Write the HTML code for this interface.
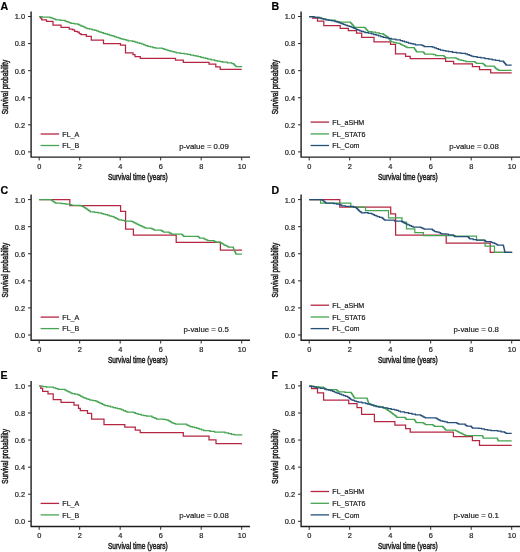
<!DOCTYPE html><html><head><meta charset="utf-8"><style>html,body{margin:0;padding:0;background:#fff;width:520px;height:552px;overflow:hidden}svg{display:block;will-change:transform}text{font-family:"Liberation Sans",sans-serif;fill:#1a1a1a;stroke:#222;stroke-width:0.2px}.ti{stroke-width:0.5px}</style></head><body>
<svg width="520" height="552" viewBox="0 0 520 552">
<g>
<text x="0.6" y="9.9" font-size="10.6" font-weight="bold" style="fill:#000;stroke:#000;stroke-width:0.2px">A</text>
<path d="M31.1,11.5 V157.1 H250" fill="none" stroke="#1e1e1e" stroke-width="1.4"/>
<text x="25" y="19.4" font-size="7.4" text-anchor="end">1.0</text>
<text x="25" y="46.48" font-size="7.4" text-anchor="end">0.8</text>
<text x="25" y="73.56" font-size="7.4" text-anchor="end">0.6</text>
<text x="25" y="100.64" font-size="7.4" text-anchor="end">0.4</text>
<text x="25" y="127.72" font-size="7.4" text-anchor="end">0.2</text>
<text x="25" y="154.8" font-size="7.4" text-anchor="end">0.0</text>
<text x="39.4" y="168.8" font-size="7.4" text-anchor="middle">0</text>
<text x="79.9" y="168.8" font-size="7.4" text-anchor="middle">2</text>
<text x="120.4" y="168.8" font-size="7.4" text-anchor="middle">4</text>
<text x="160.9" y="168.8" font-size="7.4" text-anchor="middle">6</text>
<text x="201.4" y="168.8" font-size="7.4" text-anchor="middle">8</text>
<text x="241.9" y="168.8" font-size="7.4" text-anchor="middle">10</text>
<path d="M28,16.5H31.1M28,43.58H31.1M28,70.66H31.1M28,97.74H31.1M28,124.82H31.1M28,151.9H31.1M39.2,157.1V160.4M79.7,157.1V160.4M120.2,157.1V160.4M160.7,157.1V160.4M201.2,157.1V160.4M241.7,157.1V160.4" stroke="#2a2a2a" stroke-width="1.0" fill="none"/>
<text x="107.9" y="179.8" font-size="9.4" textLength="59.8" lengthAdjust="spacingAndGlyphs" class="ti">Survival time (years)</text>
<text transform="translate(8.1,114.3) rotate(-90)" x="0" y="0" font-size="9.4" textLength="54.6" lengthAdjust="spacingAndGlyphs" class="ti">Survival probability</text>
<path d="M40.6,134H59.1" stroke="#b52642" stroke-width="1.3"/>
<text x="62.3" y="136.6" font-size="7.1">FL_A</text>
<path d="M40.6,145.5H59.1" stroke="#46a552" stroke-width="1.3"/>
<text x="62.3" y="148.1" font-size="7.1">FL_B</text>
<text x="228.8" y="148.7" font-size="7.8" text-anchor="end">p-value = 0.09</text>
<path d="M39.2,16.5 H40.5 V18 H41.8 V19.8 H46.5 V21.3 H53 V25 H61 V27.3 H69.2 V29 H72.8 V29.8 H74.6 V31.3 H77.5 V32.2 H79.3 V33.7 H81 V34.6 H86.3 V36.3 H91.3 V40.2 H103.5 V43.7 H120.5 V45 H125.5 V52.8 H133 V54.6 H135 V56.5 H140.3 V58.3 H175.5 V60.2 H183.3 V62.3 H209 V64.2 H215.8 V66.8 H220.2 V69.4 H241.7" fill="none" stroke="#b52642" stroke-width="1.25" stroke-linejoin="miter"/>
<path d="M39.2,16.5 H41.9 V17.2 H50 V17.5 H51.45 V18.07 H52.9 V18.65 H54.35 V19.23 H55.8 V19.8 H60.4 V20.4 H65 V21 H66.45 V21.57 H67.9 V22.15 H69.35 V22.73 H70.8 V23.3 H74.25 V23.85 H77.7 V24.4 H79.23 V25.08 H80.77 V25.77 H82.3 V26.45 H83.83 V27.13 H85.37 V27.82 H86.9 V28.5 H89.6 V29.13 H92.3 V29.77 H95 V30.4 H96.62 V30.98 H98.25 V31.55 H99.88 V32.12 H101.5 V32.7 H103.43 V33.27 H105.37 V33.83 H107.3 V34.4 H109.2 V35 H111.1 V35.6 H113 V36.2 H114.75 V36.78 H116.5 V37.35 H118.25 V37.92 H120 V38.5 H122 V39.08 H124 V39.65 H126 V40.22 H128 V40.8 H132.7 V41.3 H135 V42.02 H137.3 V42.75 H139.6 V43.48 H141.9 V44.2 H143.83 V44.9 H145.77 V45.6 H147.7 V46.3 H150.27 V46.9 H152.83 V47.5 H155.4 V48.1 H162.3 V48.7 H164.2 V49.3 H166.1 V49.9 H168 V50.5 H170.05 V51.08 H172.1 V51.65 H174.15 V52.22 H176.2 V52.8 H180.2 V53.35 H184.2 V53.9 H187.3 V54.47 H190.4 V55.03 H193.5 V55.6 H195.93 V56.17 H198.37 V56.73 H200.8 V57.3 H203.1 V57.87 H205.4 V58.43 H207.7 V59 H211.15 V59.75 H214.6 V60.5 H217.3 V61.07 H220 V61.63 H222.7 V62.2 H227.3 V62.95 H231.9 V63.7 H233.7 V64.2 H234.27 V64.78 H234.85 V65.35 H235.43 V65.92 H236 V66.5 H241.7 V66.8" fill="none" stroke="#46a552" stroke-width="1.25" stroke-linejoin="miter"/>
</g>
<g>
<text x="271.6" y="9.9" font-size="10.6" font-weight="bold" style="fill:#000;stroke:#000;stroke-width:0.2px">B</text>
<path d="M301.1,11.5 V157.1 H520" fill="none" stroke="#1e1e1e" stroke-width="1.4"/>
<text x="295" y="19.4" font-size="7.4" text-anchor="end">1.0</text>
<text x="295" y="46.48" font-size="7.4" text-anchor="end">0.8</text>
<text x="295" y="73.56" font-size="7.4" text-anchor="end">0.6</text>
<text x="295" y="100.64" font-size="7.4" text-anchor="end">0.4</text>
<text x="295" y="127.72" font-size="7.4" text-anchor="end">0.2</text>
<text x="295" y="154.8" font-size="7.4" text-anchor="end">0.0</text>
<text x="309.4" y="168.8" font-size="7.4" text-anchor="middle">0</text>
<text x="349.9" y="168.8" font-size="7.4" text-anchor="middle">2</text>
<text x="390.4" y="168.8" font-size="7.4" text-anchor="middle">4</text>
<text x="430.9" y="168.8" font-size="7.4" text-anchor="middle">6</text>
<text x="471.4" y="168.8" font-size="7.4" text-anchor="middle">8</text>
<text x="511.9" y="168.8" font-size="7.4" text-anchor="middle">10</text>
<path d="M298,16.5H301.1M298,43.58H301.1M298,70.66H301.1M298,97.74H301.1M298,124.82H301.1M298,151.9H301.1M309.2,157.1V160.4M349.7,157.1V160.4M390.2,157.1V160.4M430.7,157.1V160.4M471.2,157.1V160.4M511.7,157.1V160.4" stroke="#2a2a2a" stroke-width="1.0" fill="none"/>
<text x="377.9" y="179.8" font-size="9.4" textLength="59.8" lengthAdjust="spacingAndGlyphs" class="ti">Survival time (years)</text>
<text transform="translate(278.1,114.3) rotate(-90)" x="0" y="0" font-size="9.4" textLength="54.6" lengthAdjust="spacingAndGlyphs" class="ti">Survival probability</text>
<path d="M310.6,122.1H329.1" stroke="#b52642" stroke-width="1.3"/>
<text x="332.3" y="124.7" font-size="7.1">FL_aSHM</text>
<path d="M310.6,133.9H329.1" stroke="#46a552" stroke-width="1.3"/>
<text x="332.3" y="136.5" font-size="7.1">FL_STAT6</text>
<path d="M310.6,145.5H329.1" stroke="#264f7a" stroke-width="1.3"/>
<text x="332.3" y="148.1" font-size="7.1">FL_Com</text>
<text x="498.8" y="148.7" font-size="7.8" text-anchor="end">p-value = 0.08</text>
<path d="M309.2,16.7 H312.5 V18.2 H317.5 V21 H323.8 V25.7 H340.2 V28.3 H348.3 V30.6 H356.5 V33.2 H361.7 V37.4 H374 V41.9 H390.5 V44.3 H395.5 V53.8 H405.6 V56.4 H410.2 V58.7 H445.6 V61.3 H453.6 V63.8 H472.4 V66.5 H479.5 V69.6 H490.7 V72.9 H511.7" fill="none" stroke="#b52642" stroke-width="1.25" stroke-linejoin="miter"/>
<path d="M309.2,16.7 H314.6 V17.25 H320 V17.8 H321.75 V18.5 H323.5 V19.2 H325.8 V19.7 H328.1 V20.2 H335 V21 H337.3 V21.55 H339.6 V22.1 H350 V22.1 H350.57 V22.75 H351.15 V23.4 H351.73 V24.05 H352.3 V24.7 H352.88 V25.35 H353.45 V26 H354.03 V26.65 H354.6 V27.3 H364.6 V27.5 H365.18 V28.17 H365.77 V28.83 H366.35 V29.5 H366.93 V30.17 H367.52 V30.83 H368.1 V31.5 H371.85 V32.23 H375.6 V32.95 H379.35 V33.67 H383.1 V34.4 H384.25 V35.12 H385.4 V35.85 H386.55 V36.57 H387.7 V37.3 H388.2 V37.96 H388.7 V38.61 H389.2 V39.27 H389.7 V39.93 H390.2 V40.59 H390.7 V41.24 H391.2 V41.9 H393.87 V42.5 H396.53 V43.1 H399.2 V43.7 H400.55 V44.37 H401.9 V45.03 H403.25 V45.7 H404.6 V46.37 H405.95 V47.03 H407.3 V47.7 H414.2 V48.3 H414.66 V49 H415.12 V49.7 H415.58 V50.4 H416.04 V51.1 H416.5 V51.8 H423.1 V52.1 H423.67 V52.73 H424.23 V53.37 H424.8 V54 H433.5 V54.6 H435.8 V55.5 H443.8 V56 H444.4 V56.6 H445 V57.2 H445.6 V57.8 H455.4 V58.1 H456.53 V58.67 H457.67 V59.23 H458.8 V59.8 H461.13 V60.37 H463.47 V60.93 H465.8 V61.5 H474.3 V61.7 H475.03 V62.27 H475.77 V62.83 H476.5 V63.4 H483.2 V64 H483.93 V64.73 H484.67 V65.47 H485.4 V66.2 H494.3 V66.8 H494.9 V67.6 H495.5 V68.4 H496.6 V69.03 H497.7 V69.67 H498.8 V70.3 H511.7 V70.3" fill="none" stroke="#46a552" stroke-width="1.25" stroke-linejoin="miter"/>
<path d="M309.2,16.7 H314 V17.4 H318.8 V18.1 H321.13 V18.67 H323.47 V19.23 H325.8 V19.8 H328.87 V20.37 H331.93 V20.93 H335 V21.5 H337.02 V22.23 H339.05 V22.95 H341.08 V23.67 H343.1 V24.4 H345.12 V25.07 H347.15 V25.75 H349.18 V26.43 H351.2 V27.1 H352.58 V27.72 H353.96 V28.34 H355.34 V28.96 H356.72 V29.58 H358.1 V30.2 H359.83 V30.77 H361.55 V31.35 H363.27 V31.93 H365 V32.5 H368.25 V33.15 H371.5 V33.8 H373.82 V34.5 H376.14 V35.2 H378.46 V35.9 H380.78 V36.6 H383.1 V37.3 H385.8 V37.87 H388.5 V38.43 H391.2 V39 H395.8 V39.75 H400.4 V40.5 H402.42 V41.15 H404.45 V41.8 H406.48 V42.45 H408.5 V43.1 H410.8 V43.67 H413.1 V44.23 H415.4 V44.8 H420.8 V44.8 H421.93 V45.37 H423.07 V45.93 H424.2 V46.5 H432.3 V47.1 H434.32 V47.83 H436.35 V48.55 H438.38 V49.27 H440.4 V50 H443.1 V50.57 H445.8 V51.13 H448.5 V51.7 H452.5 V52.3 H456.5 V52.9 H460.9 V53.4 H465.3 V53.9 H467.27 V54.6 H469.25 V55.3 H471.23 V56 H473.2 V56.7 H477.1 V57.25 H481 V57.8 H484.9 V58.5 H488.8 V59.2 H492.15 V59.75 H495.5 V60.3 H499.4 V61 H503.3 V61.7 H503.86 V62.38 H504.42 V63.06 H504.98 V63.74 H505.54 V64.42 H506.1 V65.1 H511.7 V65.1" fill="none" stroke="#264f7a" stroke-width="1.25" stroke-linejoin="miter"/>
</g>
<g>
<text x="0.6" y="194.4" font-size="10.6" font-weight="bold" style="fill:#000;stroke:#000;stroke-width:0.2px">C</text>
<path d="M31.1,194.6 V340.2 H250" fill="none" stroke="#1e1e1e" stroke-width="1.4"/>
<text x="25" y="202.5" font-size="7.4" text-anchor="end">1.0</text>
<text x="25" y="229.58" font-size="7.4" text-anchor="end">0.8</text>
<text x="25" y="256.66" font-size="7.4" text-anchor="end">0.6</text>
<text x="25" y="283.74" font-size="7.4" text-anchor="end">0.4</text>
<text x="25" y="310.82" font-size="7.4" text-anchor="end">0.2</text>
<text x="25" y="337.9" font-size="7.4" text-anchor="end">0.0</text>
<text x="39.4" y="351.9" font-size="7.4" text-anchor="middle">0</text>
<text x="79.9" y="351.9" font-size="7.4" text-anchor="middle">2</text>
<text x="120.4" y="351.9" font-size="7.4" text-anchor="middle">4</text>
<text x="160.9" y="351.9" font-size="7.4" text-anchor="middle">6</text>
<text x="201.4" y="351.9" font-size="7.4" text-anchor="middle">8</text>
<text x="241.9" y="351.9" font-size="7.4" text-anchor="middle">10</text>
<path d="M28,199.6H31.1M28,226.68H31.1M28,253.76H31.1M28,280.84H31.1M28,307.92H31.1M28,335H31.1M39.2,340.2V343.5M79.7,340.2V343.5M120.2,340.2V343.5M160.7,340.2V343.5M201.2,340.2V343.5M241.7,340.2V343.5" stroke="#2a2a2a" stroke-width="1.0" fill="none"/>
<text x="107.9" y="362.9" font-size="9.4" textLength="59.8" lengthAdjust="spacingAndGlyphs" class="ti">Survival time (years)</text>
<text transform="translate(8.1,297.4) rotate(-90)" x="0" y="0" font-size="9.4" textLength="54.6" lengthAdjust="spacingAndGlyphs" class="ti">Survival probability</text>
<path d="M40.6,317.1H59.1" stroke="#b52642" stroke-width="1.3"/>
<text x="62.3" y="319.7" font-size="7.1">FL_A</text>
<path d="M40.6,328.6H59.1" stroke="#46a552" stroke-width="1.3"/>
<text x="62.3" y="331.2" font-size="7.1">FL_B</text>
<text x="228.8" y="331.8" font-size="7.8" text-anchor="end">p-value = 0.5</text>
<path d="M39.2,199.6 H69.8 V205.5 H120.6 V211.4 H125.6 V229 H133.4 V235.1 H176.2 V242.3 H220.4 V250 H242" fill="none" stroke="#b52642" stroke-width="1.25" stroke-linejoin="miter"/>
<path d="M39.2,199.6 H50.6 V199.7 H51.45 V200.45 H52.3 V201.2 H53.47 V201.87 H54.63 V202.53 H55.8 V203.2 H61.5 V203.5 H65.55 V204.1 H69.6 V204.7 H71.9 V205.3 H80 V205.6 H81.75 V206.3 H83.5 V207 H84.35 V207.57 H85.2 V208.15 H86.05 V208.73 H86.9 V209.3 H87.78 V209.93 H88.65 V210.55 H89.53 V211.18 H90.4 V211.8 H94.6 V212.3 H98.05 V212.9 H101.5 V213.5 H103.43 V214.07 H105.37 V214.63 H107.3 V215.2 H109.23 V215.77 H111.17 V216.33 H113.1 V216.9 H114.52 V217.62 H115.95 V218.35 H117.38 V219.08 H118.8 V219.8 H121.7 V220.4 H124.6 V221 H131.5 V221.3 H132.68 V221.93 H133.85 V222.55 H135.02 V223.18 H136.2 V223.8 H137.51 V224.43 H138.83 V225.06 H140.14 V225.69 H141.46 V226.31 H142.77 V226.94 H144.09 V227.57 H145.4 V228.2 H150.8 V228.3 H151.93 V228.87 H153.07 V229.43 H154.2 V230 H161.2 V230.6 H162.35 V231.35 H163.5 V232.1 H169.2 V232.9 H170.35 V233.45 H171.5 V234 H181.9 V234.6 H182.5 V235.17 H183.1 V235.73 H183.7 V236.3 H198.1 V236.7 H198.85 V237.45 H199.6 V238.2 H204.2 V239 H205.95 V239.75 H207.7 V240.5 H213.5 V240.8 H214.65 V241.5 H215.8 V242.2 H220.4 V242.5 H221.25 V243.07 H222.1 V243.65 H222.95 V244.23 H223.8 V244.8 H224.98 V245.38 H226.15 V245.95 H227.32 V246.53 H228.5 V247.1 H233.1 V247.3 H233.32 V247.96 H233.54 V248.62 H233.76 V249.28 H233.98 V249.94 H234.2 V250.6 H234.56 V251.28 H234.92 V251.96 H235.28 V252.64 H235.64 V253.32 H236 V254 H241.7 V254.3" fill="none" stroke="#46a552" stroke-width="1.25" stroke-linejoin="miter"/>
</g>
<g>
<text x="271.6" y="194.4" font-size="10.6" font-weight="bold" style="fill:#000;stroke:#000;stroke-width:0.2px">D</text>
<path d="M301.1,194.6 V340.2 H520" fill="none" stroke="#1e1e1e" stroke-width="1.4"/>
<text x="295" y="202.5" font-size="7.4" text-anchor="end">1.0</text>
<text x="295" y="229.58" font-size="7.4" text-anchor="end">0.8</text>
<text x="295" y="256.66" font-size="7.4" text-anchor="end">0.6</text>
<text x="295" y="283.74" font-size="7.4" text-anchor="end">0.4</text>
<text x="295" y="310.82" font-size="7.4" text-anchor="end">0.2</text>
<text x="295" y="337.9" font-size="7.4" text-anchor="end">0.0</text>
<text x="309.4" y="351.9" font-size="7.4" text-anchor="middle">0</text>
<text x="349.9" y="351.9" font-size="7.4" text-anchor="middle">2</text>
<text x="390.4" y="351.9" font-size="7.4" text-anchor="middle">4</text>
<text x="430.9" y="351.9" font-size="7.4" text-anchor="middle">6</text>
<text x="471.4" y="351.9" font-size="7.4" text-anchor="middle">8</text>
<text x="511.9" y="351.9" font-size="7.4" text-anchor="middle">10</text>
<path d="M298,199.6H301.1M298,226.68H301.1M298,253.76H301.1M298,280.84H301.1M298,307.92H301.1M298,335H301.1M309.2,340.2V343.5M349.7,340.2V343.5M390.2,340.2V343.5M430.7,340.2V343.5M471.2,340.2V343.5M511.7,340.2V343.5" stroke="#2a2a2a" stroke-width="1.0" fill="none"/>
<text x="377.9" y="362.9" font-size="9.4" textLength="59.8" lengthAdjust="spacingAndGlyphs" class="ti">Survival time (years)</text>
<text transform="translate(278.1,297.4) rotate(-90)" x="0" y="0" font-size="9.4" textLength="54.6" lengthAdjust="spacingAndGlyphs" class="ti">Survival probability</text>
<path d="M310.6,305.2H329.1" stroke="#b52642" stroke-width="1.3"/>
<text x="332.3" y="307.8" font-size="7.1">FL_aSHM</text>
<path d="M310.6,317H329.1" stroke="#46a552" stroke-width="1.3"/>
<text x="332.3" y="319.6" font-size="7.1">FL_STAT6</text>
<path d="M310.6,328.6H329.1" stroke="#264f7a" stroke-width="1.3"/>
<text x="332.3" y="331.2" font-size="7.1">FL_Com</text>
<text x="498.8" y="331.8" font-size="7.8" text-anchor="end">p-value = 0.8</text>
<path d="M309.2,199.6 H339.8 V207 H390.7 V213.8 H395.6 V235.1 H446.2 V243 H490.2 V252.4 H511.7" fill="none" stroke="#b52642" stroke-width="1.25" stroke-linejoin="miter"/>
<path d="M309.2,199.6 H320.6 V203.2 H350.8 V207 H365.5 V210.6 H388.5 V217.9 H402 V222 H406.5 V228.8 H414.8 V232.5 H423.4 V235.6 H455 V236.2 H476.5 V240.1 H485.1 V246.2 H494.5 V252.4 H511.7" fill="none" stroke="#46a552" stroke-width="1.25" stroke-linejoin="miter"/>
<path d="M309.2,199.6 H320 V199.7 H322.3 V200.3 H323.18 V200.98 H324.05 V201.65 H324.93 V202.32 H325.8 V203 H333.8 V203.5 H336.7 V204 H339.6 V204.5 H340.75 V205.15 H341.9 V205.8 H345.4 V206.4 H353.5 V207 H355.8 V207.6 H356.48 V208.28 H357.16 V208.96 H357.84 V209.64 H358.52 V210.32 H359.2 V211 H359.97 V211.6 H360.73 V212.2 H361.5 V212.8 H364.6 V212.7 H368.05 V213.25 H371.5 V213.8 H372.95 V214.53 H374.4 V215.25 H375.85 V215.97 H377.3 V216.7 H379.6 V217.3 H381.9 V217.9 H382.62 V218.47 H383.35 V219.05 H384.07 V219.62 H384.8 V220.2 H394.6 V221 H401.5 V221.3 H402.68 V222.03 H403.85 V222.75 H405.02 V223.47 H406.2 V224.2 H407.93 V224.92 H409.65 V225.65 H411.38 V226.38 H413.1 V227.1 H420.8 V227.5 H421.93 V228.07 H423.07 V228.63 H424.2 V229.2 H432.3 V229.8 H433.07 V230.37 H433.83 V230.93 H434.6 V231.5 H436.9 V232.1 H439.2 V232.7 H440.35 V233.25 H441.5 V233.8 H446.2 V234.1 H448.5 V234.8 H453.1 V235 H453.67 V235.57 H454.23 V236.13 H454.8 V236.7 H467.6 V236.5 H468.15 V237.1 H468.7 V237.7 H469.25 V238.3 H469.8 V238.9 H473.15 V239.5 H476.5 V240.1 H484.3 V240.6 H485.15 V241.15 H486 V241.7 H491 V242.3 H492.65 V242.85 H494.3 V243.4 H495.43 V243.97 H496.57 V244.53 H497.7 V245.1 H503.3 V245.3 H503.45 V245.94 H503.59 V246.57 H503.74 V247.21 H503.88 V247.85 H504.03 V248.48 H504.17 V249.12 H504.32 V249.75 H504.46 V250.39 H504.61 V251.03 H504.75 V251.66 H504.9 V252.3 H511.7 V253" fill="none" stroke="#264f7a" stroke-width="1.25" stroke-linejoin="miter"/>
</g>
<g>
<text x="0.6" y="379.3" font-size="10.6" font-weight="bold" style="fill:#000;stroke:#000;stroke-width:0.2px">E</text>
<path d="M31.1,380.9 V526.5 H250" fill="none" stroke="#1e1e1e" stroke-width="1.4"/>
<text x="25" y="388.8" font-size="7.4" text-anchor="end">1.0</text>
<text x="25" y="415.88" font-size="7.4" text-anchor="end">0.8</text>
<text x="25" y="442.96" font-size="7.4" text-anchor="end">0.6</text>
<text x="25" y="470.04" font-size="7.4" text-anchor="end">0.4</text>
<text x="25" y="497.12" font-size="7.4" text-anchor="end">0.2</text>
<text x="25" y="524.2" font-size="7.4" text-anchor="end">0.0</text>
<text x="39.4" y="538.2" font-size="7.4" text-anchor="middle">0</text>
<text x="79.9" y="538.2" font-size="7.4" text-anchor="middle">2</text>
<text x="120.4" y="538.2" font-size="7.4" text-anchor="middle">4</text>
<text x="160.9" y="538.2" font-size="7.4" text-anchor="middle">6</text>
<text x="201.4" y="538.2" font-size="7.4" text-anchor="middle">8</text>
<text x="241.9" y="538.2" font-size="7.4" text-anchor="middle">10</text>
<path d="M28,385.9H31.1M28,412.98H31.1M28,440.06H31.1M28,467.14H31.1M28,494.22H31.1M28,521.3H31.1M39.2,526.5V529.8M79.7,526.5V529.8M120.2,526.5V529.8M160.7,526.5V529.8M201.2,526.5V529.8M241.7,526.5V529.8" stroke="#2a2a2a" stroke-width="1.0" fill="none"/>
<text x="107.9" y="549.2" font-size="9.4" textLength="59.8" lengthAdjust="spacingAndGlyphs" class="ti">Survival time (years)</text>
<text transform="translate(8.1,483.7) rotate(-90)" x="0" y="0" font-size="9.4" textLength="54.6" lengthAdjust="spacingAndGlyphs" class="ti">Survival probability</text>
<path d="M40.6,503.4H59.1" stroke="#b52642" stroke-width="1.3"/>
<text x="62.3" y="506" font-size="7.1">FL_A</text>
<path d="M40.6,514.9H59.1" stroke="#46a552" stroke-width="1.3"/>
<text x="62.3" y="517.5" font-size="7.1">FL_B</text>
<text x="228.8" y="518.1" font-size="7.8" text-anchor="end">p-value = 0.08</text>
<path d="M39.2,386 H40.8 V388.4 H42.6 V391.4 H48 V393.9 H53.2 V399.5 H61 V402.3 H74 V405.2 H78.5 V408.3 H80.3 V410.5 H87.5 V413.3 H91.6 V419 H104 V424.5 H124.8 V427.1 H135.3 V430.1 H140.2 V432.7 H183.3 V436 H209 V439.8 H216 V443.7 H242" fill="none" stroke="#b52642" stroke-width="1.25" stroke-linejoin="miter"/>
<path d="M39.2,386 H42.85 V386.5 H46.5 V387 H53.5 V387.8 H55.8 V388.55 H58.1 V389.3 H65 V390.1 H66.38 V390.8 H67.76 V391.5 H69.14 V392.2 H70.52 V392.9 H71.9 V393.6 H74.8 V394.15 H77.7 V394.7 H79.08 V395.4 H80.46 V396.1 H81.84 V396.8 H83.22 V397.5 H84.6 V398.2 H86.4 V398.8 H88.2 V399.4 H90 V400 H92.9 V400.6 H95.8 V401.2 H97.11 V401.81 H98.43 V402.43 H99.74 V403.04 H101.06 V403.66 H102.37 V404.27 H103.69 V404.89 H105 V405.5 H107.7 V406.17 H110.4 V406.83 H113.1 V407.5 H115.4 V408.07 H117.7 V408.63 H120 V409.2 H121.72 V409.93 H123.45 V410.65 H125.18 V411.38 H126.9 V412.1 H133.8 V412.7 H135.37 V413.27 H136.93 V413.83 H138.5 V414.4 H141.17 V415 H143.83 V415.6 H146.5 V416.2 H151.9 V417.1 H153.43 V417.73 H154.97 V418.37 H156.5 V419 H163.5 V419.4 H165.8 V419.95 H168.1 V420.5 H169.23 V421.17 H170.37 V421.83 H171.5 V422.5 H172.87 V423.07 H174.23 V423.63 H175.6 V424.2 H185.4 V424.2 H186.55 V424.77 H187.7 V425.35 H188.85 V425.93 H190 V426.5 H192.3 V427.1 H194.6 V427.7 H196.9 V428.3 H199.2 V429.03 H201.5 V429.77 H203.8 V430.5 H210 V431.3 H214.6 V432.2 H221.5 V432.2 H225 V432.95 H228.5 V433.7 H231.35 V434.25 H234.2 V434.8 H241.7 V435.4" fill="none" stroke="#46a552" stroke-width="1.25" stroke-linejoin="miter"/>
</g>
<g>
<text x="271.6" y="379.3" font-size="10.6" font-weight="bold" style="fill:#000;stroke:#000;stroke-width:0.2px">F</text>
<path d="M301.1,380.9 V526.5 H520" fill="none" stroke="#1e1e1e" stroke-width="1.4"/>
<text x="295" y="388.8" font-size="7.4" text-anchor="end">1.0</text>
<text x="295" y="415.88" font-size="7.4" text-anchor="end">0.8</text>
<text x="295" y="442.96" font-size="7.4" text-anchor="end">0.6</text>
<text x="295" y="470.04" font-size="7.4" text-anchor="end">0.4</text>
<text x="295" y="497.12" font-size="7.4" text-anchor="end">0.2</text>
<text x="295" y="524.2" font-size="7.4" text-anchor="end">0.0</text>
<text x="309.4" y="538.2" font-size="7.4" text-anchor="middle">0</text>
<text x="349.9" y="538.2" font-size="7.4" text-anchor="middle">2</text>
<text x="390.4" y="538.2" font-size="7.4" text-anchor="middle">4</text>
<text x="430.9" y="538.2" font-size="7.4" text-anchor="middle">6</text>
<text x="471.4" y="538.2" font-size="7.4" text-anchor="middle">8</text>
<text x="511.9" y="538.2" font-size="7.4" text-anchor="middle">10</text>
<path d="M298,385.9H301.1M298,412.98H301.1M298,440.06H301.1M298,467.14H301.1M298,494.22H301.1M298,521.3H301.1M309.2,526.5V529.8M349.7,526.5V529.8M390.2,526.5V529.8M430.7,526.5V529.8M471.2,526.5V529.8M511.7,526.5V529.8" stroke="#2a2a2a" stroke-width="1.0" fill="none"/>
<text x="377.9" y="549.2" font-size="9.4" textLength="59.8" lengthAdjust="spacingAndGlyphs" class="ti">Survival time (years)</text>
<text transform="translate(278.1,483.7) rotate(-90)" x="0" y="0" font-size="9.4" textLength="54.6" lengthAdjust="spacingAndGlyphs" class="ti">Survival probability</text>
<path d="M310.6,491.5H329.1" stroke="#b52642" stroke-width="1.3"/>
<text x="332.3" y="494.1" font-size="7.1">FL_aSHM</text>
<path d="M310.6,503.3H329.1" stroke="#46a552" stroke-width="1.3"/>
<text x="332.3" y="505.9" font-size="7.1">FL_STAT6</text>
<path d="M310.6,514.9H329.1" stroke="#264f7a" stroke-width="1.3"/>
<text x="332.3" y="517.5" font-size="7.1">FL_Com</text>
<text x="498.8" y="518.1" font-size="7.8" text-anchor="end">p-value = 0.1</text>
<path d="M309.2,386 H311.5 V388.6 H317.5 V392.9 H323.6 V400 H348.7 V403.5 H357 V407.6 H361.6 V414.4 H374.4 V421.7 H394.9 V425.2 H405.6 V428.7 H410.2 V432.2 H453.4 V436.5 H472.4 V440.5 H479.5 V445.4 H511.7" fill="none" stroke="#b52642" stroke-width="1.25" stroke-linejoin="miter"/>
<path d="M309.2,386 H313.97 V386.6 H318.73 V387.2 H323.5 V387.8 H324.27 V388.37 H325.03 V388.93 H325.8 V389.5 H336.2 V389.5 H336.77 V390.07 H337.35 V390.65 H337.93 V391.23 H338.5 V391.8 H344.85 V392.4 H351.2 V393 H351.62 V393.65 H352.05 V394.3 H352.48 V394.95 H352.9 V395.6 H353.32 V396.25 H353.75 V396.9 H354.18 V397.55 H354.6 V398.2 H366.9 V398.3 H367.12 V398.95 H367.35 V399.6 H367.57 V400.25 H367.8 V400.9 H368.02 V401.55 H368.25 V402.2 H368.47 V402.85 H368.7 V403.5 H369.98 V404.07 H371.25 V404.65 H372.52 V405.23 H373.8 V405.8 H376.9 V406.37 H380 V406.93 H383.1 V407.5 H384.24 V408.2 H385.38 V408.9 H386.52 V409.6 H387.66 V410.3 H388.8 V411 H389.68 V411.65 H390.55 V412.3 H391.43 V412.95 H392.3 V413.6 H393.18 V414.25 H394.05 V414.9 H394.93 V415.55 H395.8 V416.2 H396.35 V416.75 H396.9 V417.3 H405 V417.9 H405.6 V418.65 H406.2 V419.4 H414.2 V419.6 H414.7 V420.33 H415.2 V421.05 H415.7 V421.77 H416.2 V422.5 H423.1 V423.1 H424.25 V423.8 H425.4 V424.5 H432.3 V424.8 H433.45 V425.55 H434.6 V426.3 H442.7 V426.8 H443.28 V427.44 H443.86 V428.08 H444.44 V428.72 H445.02 V429.36 H445.6 V430 H455.4 V430.6 H456.53 V431.17 H457.67 V431.73 H458.8 V432.3 H459.98 V432.88 H461.15 V433.45 H462.32 V434.03 H463.5 V434.6 H464.7 V435.15 H465.9 V435.7 H482.6 V436 H482.8 V436.73 H483 V437.47 H483.2 V438.2 H497.1 V438.2 H497.38 V438.88 H497.65 V439.55 H497.93 V440.22 H498.2 V440.9 H511.7 V440.9" fill="none" stroke="#46a552" stroke-width="1.25" stroke-linejoin="miter"/>
<path d="M309.2,386 H311.63 V386.6 H314.07 V387.2 H316.5 V387.8 H320.55 V388.4 H324.6 V389 H326.62 V389.57 H328.65 V390.15 H330.68 V390.73 H332.7 V391.3 H334.43 V392.02 H336.15 V392.75 H337.88 V393.48 H339.6 V394.2 H341.62 V394.9 H343.65 V395.6 H345.68 V396.3 H347.7 V397 H348.57 V397.73 H349.45 V398.45 H350.32 V399.17 H351.2 V399.9 H352.93 V400.47 H354.65 V401.05 H356.38 V401.62 H358.1 V402.2 H361.95 V402.85 H365.8 V403.5 H367.8 V404.07 H369.8 V404.65 H371.8 V405.23 H373.8 V405.8 H376.15 V406.5 H378.5 V407.2 H383.1 V407.95 H387.7 V408.7 H391.15 V409.25 H394.6 V409.8 H396.53 V410.47 H398.47 V411.13 H400.4 V411.8 H404.45 V412.55 H408.5 V413.3 H411.95 V414.1 H415.4 V414.9 H420.8 V415.6 H421.95 V416.18 H423.1 V416.75 H424.25 V417.32 H425.4 V417.9 H435.8 V418.2 H436.95 V418.85 H438.1 V419.5 H439.25 V420.15 H440.4 V420.8 H442.7 V421.37 H445 V421.93 H447.3 V422.5 H455.4 V422.5 H456.53 V423.07 H457.67 V423.63 H458.8 V424.2 H465.3 V425.1 H466.15 V425.65 H467 V426.2 H470.9 V426.4 H471.47 V427 H472.03 V427.6 H472.6 V428.2 H478.7 V428.4 H481.5 V428.95 H484.3 V429.5 H487.65 V430.1 H491 V430.7 H497.7 V431.2 H501.05 V431.75 H504.4 V432.3 H505.25 V432.85 H506.1 V433.4 H511.7 V433.4" fill="none" stroke="#264f7a" stroke-width="1.25" stroke-linejoin="miter"/>
</g>
</svg></body></html>
